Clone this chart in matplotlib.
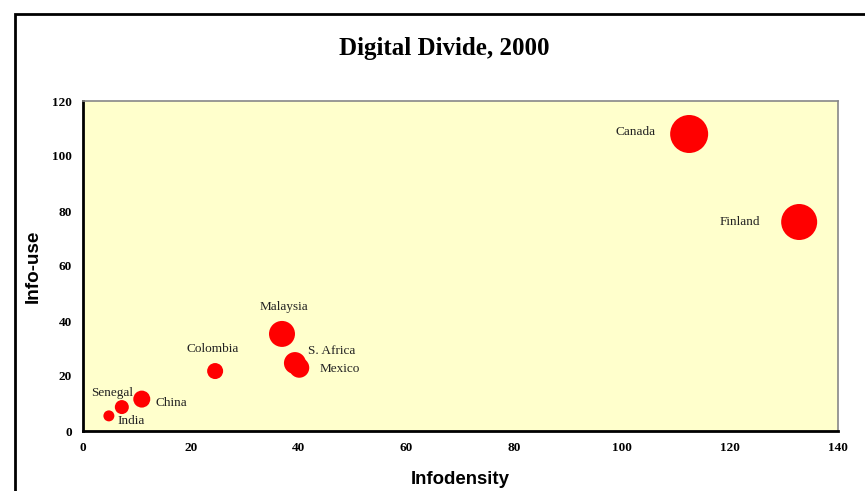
import matplotlib.pyplot as plt
from matplotlib.patches import Rectangle

# Data
countries = ["Canada", "Finland", "Malaysia", "S. Africa", "Mexico",
             "Colombia", "China", "Senegal", "India"]
infodensity = [112.4, 132.8, 36.9, 39.3, 40.1, 24.5, 10.9, 7.2, 4.8]
info_use = [108.0, 76.0, 35.3, 24.7, 23.0, 21.8, 11.6, 8.7, 5.5]
bubble_diam = [38, 36, 26, 22, 20, 16, 17, 14, 11]  # pixels

# label offsets in pixels (dx, dy) and alignment
label_pos = {
    "Canada": (-34, 2, "right"),
    "Finland": (-39, 0, "right"),
    "Malaysia": (2, 27, "center"),
    "S. Africa": (13, 12, "left"),
    "Mexico": (20, -1, "left"),
    "Colombia": (-2, 22, "center"),
    "China": (14, -4, "left"),
    "Senegal": (-10, 14, "center"),
    "India": (9, -5, "left"),
}

fig = plt.figure(figsize=(8.65, 4.91), dpi=100)
ax = fig.add_axes([83 / 865, 1 - 431 / 491, 755 / 865, 330 / 491])
ax.set_facecolor("#FFFFCC")

sizes = [(d * 0.72) ** 2 for d in bubble_diam]
ax.scatter(infodensity, info_use, s=sizes, color="#FF0000", zorder=3,
           edgecolors="none")

for name, x, y in zip(countries, infodensity, info_use):
    dx, dy, ha = label_pos[name]
    ax.annotate(name, (x, y), xytext=(dx * 0.72, dy * 0.72),
                textcoords="offset points", ha=ha, va="center",
                fontsize=9.5, family="Liberation Serif", color="#222222")

ax.set_xlim(0, 140)
ax.set_ylim(0, 120)
ax.set_xticks(range(0, 141, 20))
ax.set_yticks(range(0, 121, 20))
ax.tick_params(length=0, pad=8)
for lbl in ax.get_xticklabels() + ax.get_yticklabels():
    lbl.set_family("Liberation Serif")
    lbl.set_fontweight("bold")
    lbl.set_fontsize(9.5)

ax.spines["left"].set_linewidth(2)
ax.spines["bottom"].set_linewidth(2)
ax.spines["top"].set_color("#888888")
ax.spines["right"].set_color("#888888")
ax.spines["top"].set_linewidth(1.2)
ax.spines["right"].set_linewidth(1.2)

ax.set_xlabel("Infodensity", fontsize=13.4, fontweight="bold",
              family="Liberation Sans", labelpad=12)
ax.set_ylabel("Info-use", fontsize=13.6, fontweight="bold",
              family="Liberation Sans", labelpad=7.5)

fig.text(0.514, 1 - 48 / 491, "Digital Divide, 2000", ha="center", va="center",
         fontsize=18, fontweight="bold", family="Liberation Serif")

# outer chart border
fig.patches.append(Rectangle((15 / 865, -0.1), 1.0, 1 - 14 / 491 + 0.1,
                             transform=fig.transFigure, fill=False,
                             edgecolor="black", linewidth=2))

plt.savefig("out.png", dpi=100)
